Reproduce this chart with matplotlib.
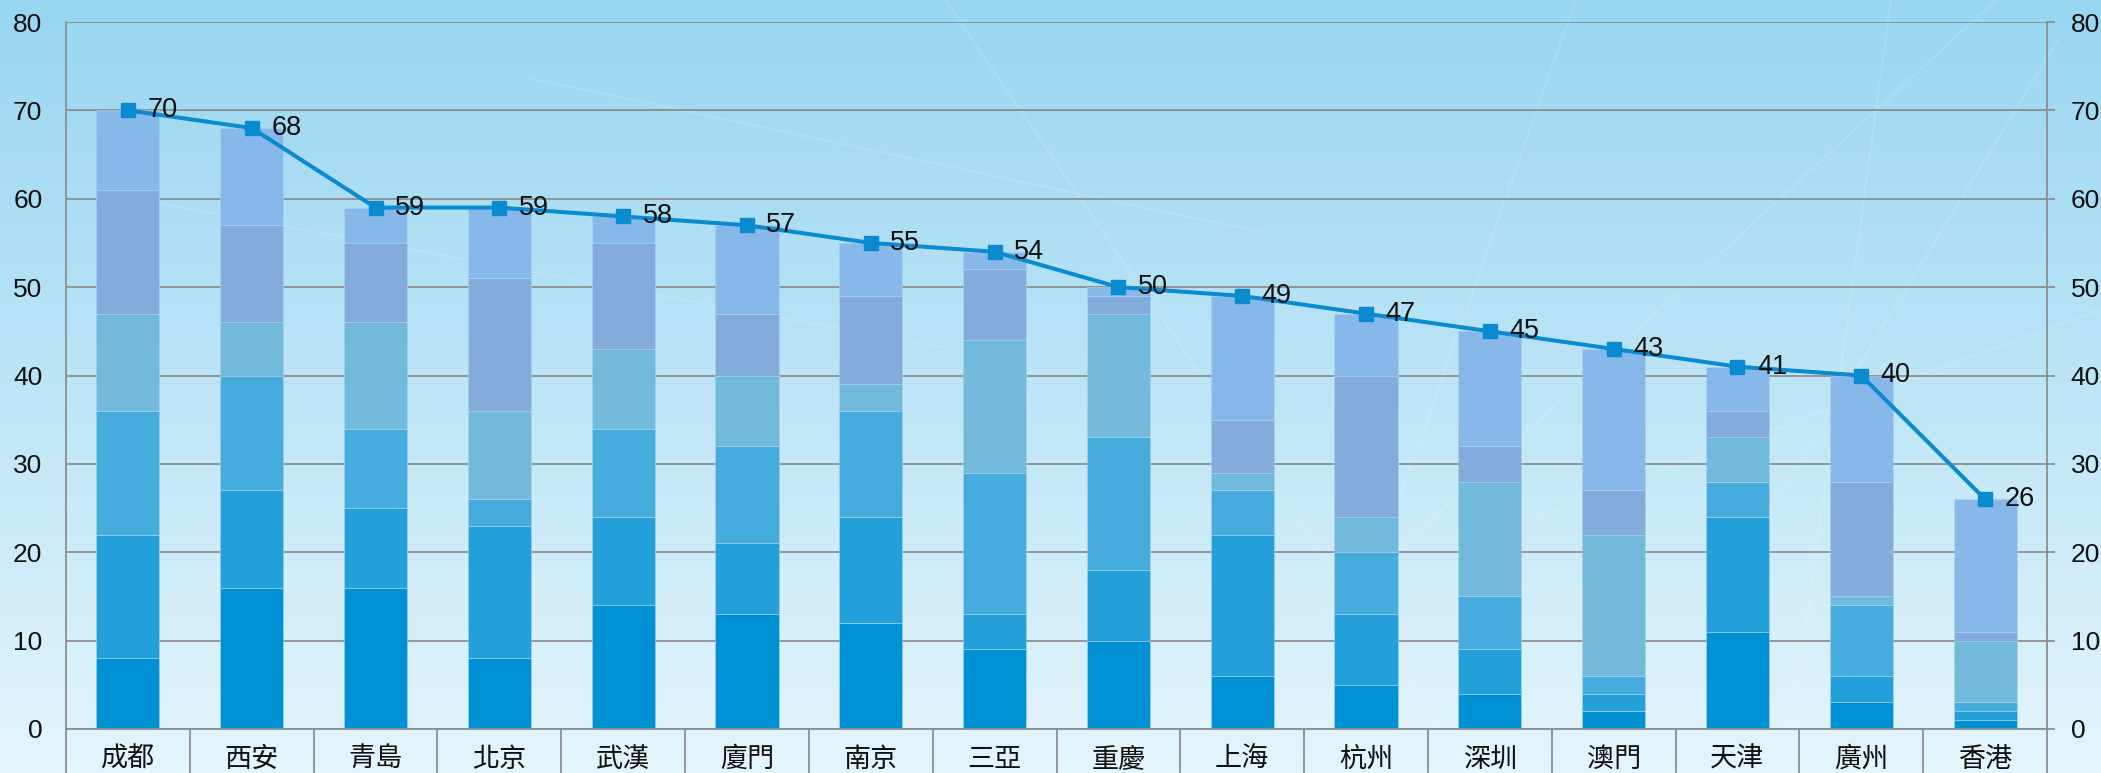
import numpy as np
import matplotlib
matplotlib.use("Agg")
import matplotlib.pyplot as plt
from matplotlib.colors import LinearSegmentedColormap

plt.rcParams['font.family'] = ['Noto Sans CJK TC', 'DejaVu Sans']

cities = ['成都', '西安', '青島', '北京', '武漢', '廈門', '南京', '三亞',
          '重慶', '上海', '杭州', '深圳', '澳門', '天津', '廣州', '香港']
seg1 = [8, 16, 16, 8, 14, 13, 12, 9, 10, 6, 5, 4, 2, 11, 3, 1]
seg2 = [14, 11, 9, 15, 10, 8, 12, 4, 8, 16, 8, 5, 2, 13, 3, 1]
seg3 = [14, 13, 9, 3, 10, 11, 12, 16, 15, 5, 7, 6, 2, 4, 8, 1]
seg4 = [11, 6, 12, 10, 9, 8, 3, 15, 14, 2, 4, 13, 16, 5, 1, 7]
seg5 = [14, 11, 9, 15, 12, 7, 10, 8, 2, 6, 16, 4, 5, 3, 13, 1]
seg6 = [9, 11, 4, 8, 3, 10, 6, 2, 1, 14, 7, 13, 16, 5, 12, 15]
totals = [70, 68, 59, 59, 58, 57, 55, 54, 50, 49, 47, 45, 43, 41, 40, 26]
yticks = [0, 10, 20, 30, 40, 50, 60, 70, 80]

segments = [seg1, seg2, seg3, seg4, seg5, seg6]
colors = ['#0091D5', '#23A0D9', '#46ACDD', '#72BADB', '#83ACDD', '#86B8EA']

W, H = 2101, 773
fig = plt.figure(figsize=(W / 100, H / 100), dpi=100)

# background gradient
bg = fig.add_axes([0, 0, 1, 1], zorder=-10)
cmap = LinearSegmentedColormap.from_list('bg', ['#98D6F1', '#BDE5F6', '#E4F5FB'])
grad = np.linspace(0, 1, 256).reshape(-1, 1)
bg.imshow(grad, aspect='auto', cmap=cmap, extent=[0, 1, 0, 1], origin='upper')
bg.set_xlim(0, 1)
bg.set_ylim(0, 1)
# faint light streaks in the background
for (x0, y0, x1, y1) in [(0.55, 0.0, 0.95, 1.0), (0.62, 0.0, 0.75, 1.0),
                         (0.80, 0.15, 0.98, 0.95), (0.70, 0.3, 1.0, 0.6),
                         (0.05, 0.75, 0.45, 0.55), (0.25, 0.9, 0.6, 0.7),
                         (0.85, 0.0, 0.90, 1.0), (0.45, 1.0, 0.70, 0.0)]:
    bg.plot([x0, x1], [y0, y1], color='white', alpha=0.12, lw=1.5)
bg.set_axis_off()

ax = fig.add_axes([66 / W, 1 - 729 / H, (2047 - 66) / W, (729 - 22) / H])
ax.set_facecolor('none')
x = np.arange(len(cities))
bottom = np.zeros(len(cities))
for seg, c in zip(segments, colors):
    ax.bar(x, seg, width=0.51, bottom=bottom, color=c, edgecolor='#A9D3EE',
           linewidth=0.4, zorder=2)
    bottom = bottom + np.array(seg)

ax.plot(x, totals, color='#0A8ACF', lw=2.9, marker='s', markersize=10.5,
        markerfacecolor='#0A8ACF', markeredgecolor='#0A8ACF', zorder=4)
for xi, t in zip(x, totals):
    ax.annotate(str(t), (xi, t), xytext=(14, 0), textcoords='offset points',
                ha='left', va='center', fontsize=19.5, family=['Liberation Sans'],
                color='#111111', zorder=5)

ax.set_xlim(-0.5, len(cities) - 0.5)
ax.set_ylim(0, 80)
ax.set_yticks(yticks)
ax.yaxis.grid(True, color='#8E8E8E', lw=1.3, zorder=0)
ax.set_axisbelow(True)

ax.tick_params(axis='y', which='both', left=False, right=True, labelleft=True,
               labelright=True, length=6, width=1.3, color='#8E8E8E',
               labelsize=19, labelcolor='#111111', pad=11)
for t in ax.yaxis.get_major_ticks():
    t.label1.set_family('Liberation Sans')
    t.label2.set_family('Liberation Sans')

ax.set_xticks(x)
ax.set_xticklabels(cities, fontsize=19.5)
ax.tick_params(axis='x', which='major', length=0, pad=12, labelcolor='#111111')
ax.set_xticks(np.arange(-0.5, len(cities), 1), minor=True)
ax.tick_params(axis='x', which='minor', length=34, color='#8E8E8E', width=1.3)

ax.spines['top'].set_visible(False)
for s in ['left', 'right', 'bottom']:
    ax.spines[s].set_color('#8E8E8E')
    ax.spines[s].set_linewidth(1.3)

fig.savefig('out.png', dpi=100)
